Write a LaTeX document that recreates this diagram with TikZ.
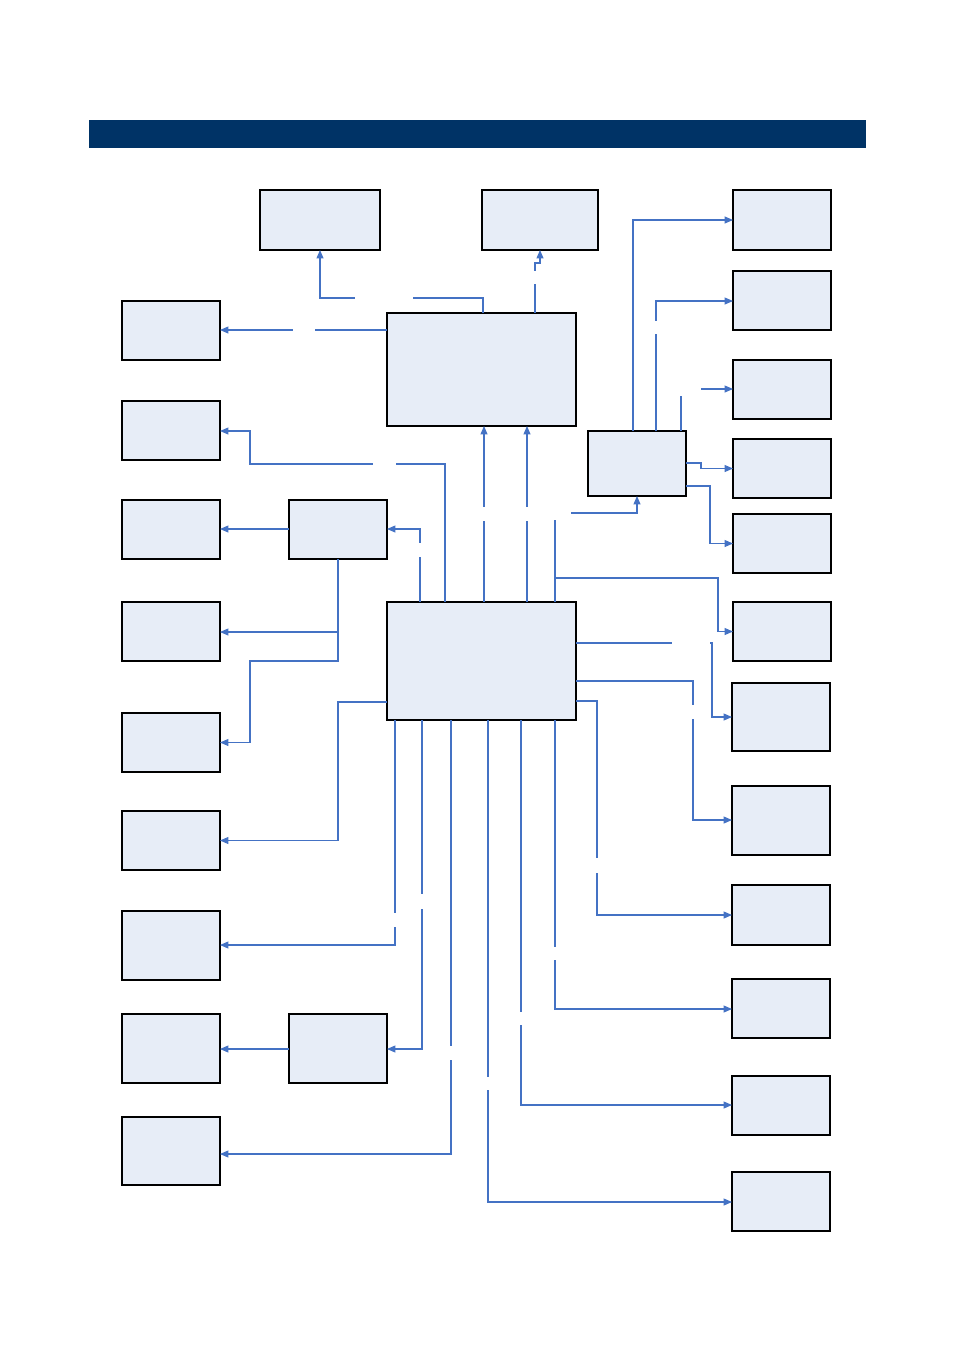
\documentclass[tikz,border=0pt]{standalone}
\usetikzlibrary{arrows.meta}
\definecolor{navy}{RGB}{0,51,102}
\definecolor{boxfill}{RGB}{231,237,247}
\definecolor{linkblue}{RGB}{68,114,196}
\begin{document}
\begin{tikzpicture}[x=0.025cm, y=-0.025cm,
  box/.style 2 args={draw, fill=boxfill, line width=0.8pt, inner sep=0pt, outer sep=0pt,
    minimum width=#1*0.025cm, minimum height=#2*0.025cm},
  link/.style={draw=linkblue, line width=0.75pt, -{Triangle[length=6pt, width=5pt]}},
  gap/.style 2 args={fill=white, inner sep=0pt, minimum width=#1*0.025cm, minimum height=#2*0.025cm}]
\useasboundingbox (0,0) rectangle (955,1350);
\node[fill=navy, inner sep=0pt, minimum width=777*0.025cm, minimum height=28*0.025cm] (hdr) at (477.5,134) {};
% top row
\node[box={120}{60}] (T1) at (320,220) {};
\node[box={116}{60}] (T2) at (540,220) {};
% centre
\node[box={189}{113}] (M1) at (481.5,369.5) {};
\node[box={189}{118}] (M2) at (481.5,661) {};
\node[box={98}{65}] (S1) at (637,463.5) {};
\node[box={98}{59}] (S2) at (338,529.5) {};
\node[box={98}{69}] (S3) at (338,1048.5) {};
% left column
\node[box={98}{59}] (L1) at (171,330.5) {};
\node[box={98}{59}] (L2) at (171,430.5) {};
\node[box={98}{59}] (L3) at (171,529.5) {};
\node[box={98}{59}] (L4) at (171,631.5) {};
\node[box={98}{59}] (L5) at (171,742.5) {};
\node[box={98}{59}] (L6) at (171,840.5) {};
\node[box={98}{69}] (L7) at (171,945.5) {};
\node[box={98}{69}] (L8) at (171,1048.5) {};
\node[box={98}{68}] (L9) at (171,1151) {};
% right column
\node[box={98}{60}] (R1) at (782,220) {};
\node[box={98}{59}] (R2) at (782,300.5) {};
\node[box={98}{59}] (R3) at (782,389.5) {};
\node[box={98}{59}] (R4) at (782,468.5) {};
\node[box={98}{59}] (R5) at (782,543.5) {};
\node[box={98}{59}] (R6) at (782,631.5) {};
\node[box={98}{68}] (R7) at (781,717) {};
\node[box={98}{69}] (R8) at (781,820.5) {};
\node[box={98}{60}] (R9) at (781,915) {};
\node[box={98}{59}] (R10) at (781,1008.5) {};
\node[box={98}{59}] (R11) at (781,1105.5) {};
\node[box={98}{59}] (R12) at (781,1201.5) {};
% upper block
\draw[link] (M1.north -| 483,0) -- (483,298) -- node[gap={58}{4}, pos=0.607] (g1) {} (320,298) -- (T1.south -| 320,0);
\draw[link] (M1.north -| 535,0) -- node[gap={4}{13}, pos=0.71] (g2) {} (535,263) -- (540,263) -- (T2.south -| 540,0);
\draw[link] (M1.west |- 0,330) -- node[gap={22}{4}, pos=0.497] (g3) {} (L1.east |- 0,330);
% lower block to the left
\draw[link] (M2.north -| 445,0) -- (445,464) -- node[gap={23}{4}, pos=0.31] (g4) {} (250,464) -- (250,431) -- (L2.east |- 0,431);
\draw[link] (M2.north -| 420,0) -- node[gap={4}{14}, pos=0.712] (g5) {} (420,529) -- (S2.east |- 0,529);
\draw[link] (S2.west |- 0,529) -- (L3.east |- 0,529);
\draw[link] (S2.south) -- (338,632) -- (L4.east |- 0,632);
\draw[link] (S2.south) -- (338,661) -- (250,661) |- (L5.east);
\draw[link] (M2.west |- 0,702) -- (338,702) |- (L6.east);
% lower block up to the upper one
\draw[link] (M2.north -| 484,0) -- node[gap={4}{14}] (g6) {} (M1.south -| 484,0);
\draw[link] (M2.north -| 527,0) -- node[gap={4}{14}] (g7) {} (M1.south -| 527,0);
\draw[link] (M2.north -| 555,0) -- (555,513) node[gap={32}{14}] (g8) {} -- (637,513) -- (S1.south -| 637,0);
\draw[link] (M2.north -| 555,0) -- (555,578) -- (718,578) |- (R6.west);
% lower block to the right
\draw[link] (M2.east |- 0,643) -- node[gap={38}{4}, pos=0.846] (g9) {} (712,643) |- (R7.west);
\draw[link] (M2.east |- 0,681) -- (693,681) -- node[gap={4}{14}, pos=0.223] (g10) {} (693,820) -- (R8.west |- 0,820);
\draw[link] (M2.east |- 0,701) -- (597,701) -- node[gap={4}{15}, pos=0.769] (g11) {} (597,915) -- (R9.west |- 0,915);
\draw[link] (M2.south -| 555,0) -- node[gap={4}{13}, pos=0.808] (g12) {} (555,1009) -- (R10.west |- 0,1009);
\draw[link] (M2.south -| 521,0) -- node[gap={4}{13}, pos=0.775] (g13) {} (521,1105) -- (R11.west |- 0,1105);
\draw[link] (M2.south -| 488,0) -- node[gap={4}{13}, pos=0.754] (g14) {} (488,1202) -- (R12.west |- 0,1202);
% lower block downwards to the left
\draw[link] (M2.south -| 451,0) -- node[gap={4}{14}, pos=0.767] (g15) {} (451,1154) -- (L9.east |- 0,1154);
\draw[link] (M2.south -| 422,0) -- node[gap={4}{15}, pos=0.552] (g16) {} (422,1049) -- (S3.east |- 0,1049);
\draw[link] (M2.south -| 395,0) -- node[gap={4}{14}, pos=0.889] (g17) {} (395,945) -- (L7.east |- 0,945);
\draw[link] (S3.west |- 0,1049) -- (L8.east |- 0,1049);
% small block to the right
\draw[link] (S1.north -| 633,0) |- (R1.west);
\draw[link] (S1.north -| 656,0) -- node[gap={4}{13}, pos=0.796] (g18) {} (656,301) -- (R2.west |- 0,301);
\draw[link] (S1.north -| 681,0) -- (681,389) node[gap={40}{14}] (g19) {} -- (R3.west |- 0,389);
\draw[link] (S1.east |- 0,463) -- (701,463) |- (R4.west);
\draw[link] (S1.east |- 0,486) -- (710,486) |- (R5.west);
\end{tikzpicture}
\end{document}
